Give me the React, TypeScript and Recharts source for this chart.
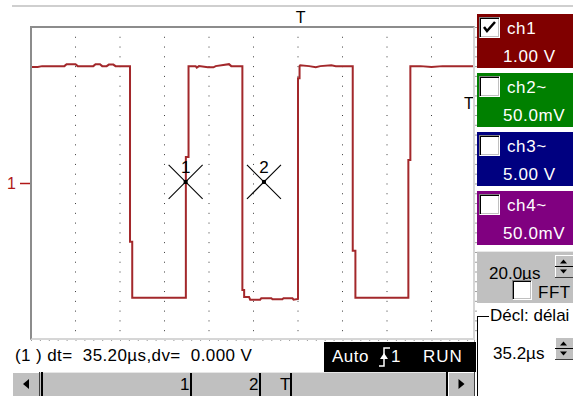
import React from 'react';
import { ComposedChart, Line, XAxis, YAxis, CartesianGrid, ReferenceDot } from 'recharts';

// ch1 trace (time in µs, 20 µs/div; volts, 1 V/div)
const traceTimes = [
  0, 3, 5, 15, 16, 20, 21, 28, 29, 31, 32, 34, 35, 37, 38, 44.5,
  44.5, 45.5, 45.5, 69.6,
  69.6, 70.8, 70.8, 74, 74.5, 75.5, 79.5, 82, 83, 89, 90, 95,
  95, 95.8, 95.8, 98, 98.5, 103, 103.5, 108, 108.5, 113, 113.5, 117.5, 118, 120,
  120, 120.7, 120.7, 121, 125, 128, 130, 135, 137, 144.6,
  144.6, 145.8, 145.8, 169.6,
  169.6, 170.5, 170.5, 175, 180, 185, 199,
];
const traceVolts = [
  2.98, 2.98, 3.0, 3.0, 3.05, 3.05, 3.0, 3.0, 3.05, 3.05, 3.0, 3.0, 3.04, 3.04, 3.0, 3.0,
  -1.49, -1.49, -2.92, -2.92,
  0.68, 0.68, 3.0, 3.0, 2.96, 3.0, 2.97, 2.97, 3.0, 3.05, 3.0, 3.0,
  -2.72, -2.72, -2.9, -2.9, -2.97, -2.97, -2.93, -2.93, -2.96, -2.96, -2.93, -2.93, -2.97, -2.95,
  2.69, 2.69, 3.0, 3.02, 3.0, 2.97, 3.0, 3.02, 3.0, 3.0,
  -1.72, -1.72, -2.92, -2.92,
  0.6, 0.6, 3.0, 3.0, 2.98, 3.0, 3.0,
];

const cursorTimes = [69.5, 104.7];
const cursorVolts = [0.04, 0.04];
const cursorLabels = ['1', '2'];

const triggerTime = 121.2;
const triggerLevel = 2.05;

const timeTicks = [20, 40, 60, 80, 100, 120, 140, 160, 180];
const voltTicks = [-3, -2, -1, 0, 1, 2, 3];

const channelNames = ['ch1', 'ch2~', 'ch3~', 'ch4~'];
const channelScales = ['1.00 V', '50.0mV', '5.00 V', '50.0mV'];
const channelColors = ['#800000', '#008000', '#000080', '#800080'];
const channelOn = [true, false, false, false];

const traceData = traceTimes.map((t, i) => ({ t, v: traceVolts[i] }));

const FONT = '"Liberation Sans", Arial, sans-serif';
const TRACE = '#a3282b';

const Checkbox = ({ checked, left, top, size = 21 }: any) => (
  <div
    style={{
      position: 'absolute', left, top, width: size, height: size, boxSizing: 'border-box',
      background: '#fff', border: '1px solid', borderColor: '#808080 #fff #fff #808080',
      boxShadow: 'inset 1px 1px #000, inset -1px -1px #c0c0c0',
    }}
  >
    {checked && (
      <svg width={size - 2} height={size - 2} style={{ position: 'absolute', left: 0, top: 0 }}>
        <polyline points="4,9 7,13 15,4" fill="none" stroke="#000" strokeWidth={2.5} />
      </svg>
    )}
  </div>
);

const Spinner = ({ left, top, height }: any) => (
  <svg width={18} height={height} style={{ position: 'absolute', left, top }}>
    <rect x={0} y={0} width={18} height={height} fill="#c0c0c0" />
    <line x1={0} y1={0.5} x2={18} y2={0.5} stroke="#fff" />
    <line x1={0.5} y1={0} x2={0.5} y2={height} stroke="#fff" />
    <line x1={0} y1={height / 2} x2={18} y2={height / 2} stroke="#000" />
    <line x1={0} y1={height - 0.5} x2={18} y2={height - 0.5} stroke="#404040" />
    <polygon points={`5,${height / 2 - 3} 12,${height / 2 - 3} 8.5,${height / 2 - 7}`} fill="#000" />
    <polygon points={`5,${height / 2 + 3} 12,${height / 2 + 3} 8.5,${height / 2 + 7}`} fill="#000" />
  </svg>
);

const CursorMark = (props: any) => {
  const { cx, cy, label } = props;
  if (cx == null || cy == null) return null;
  return (
    <g>
      <line x1={cx - 17} y1={cy - 17} x2={cx + 17} y2={cy + 17} stroke="#000" strokeWidth={1.1} />
      <line x1={cx - 17} y1={cy + 17} x2={cx + 17} y2={cy - 17} stroke="#000" strokeWidth={1.1} />
      <rect x={cx - 2} y={cy - 2} width={4} height={4} fill="#000" />
      <text x={cx} y={cy - 9} textAnchor="middle" fontSize={17} fontFamily={FONT} fill="#000">
        {label}
      </text>
    </g>
  );
};

const ScopeScreen = () => (
  <div style={{ position: 'absolute', left: 0, top: 0 }}>
    <ComposedChart
      width={480}
      height={345}
      data={traceData}
      margin={{ top: 27, right: 4, bottom: 5, left: 6 }}
    >
      <XAxis dataKey="t" type="number" domain={[0, 200]} ticks={timeTicks} hide />
      <YAxis yAxisId="grid" type="number" domain={[-4, 4]} ticks={voltTicks} hide />
      <YAxis
        yAxisId="ch"
        type="number"
        domain={[-4, 4]}
        ticks={[0]}
        width={25}
        axisLine={false}
        tickSize={11}
        tickMargin={4}
        tickFormatter={() => '1'}
        tick={{ fill: '#b01818', fontSize: 16, fontFamily: FONT }}
        tickLine={{ stroke: '#b01818', strokeWidth: 1.5 }}
      />
      <CartesianGrid yAxisId="grid" vertical={false} stroke="#3a3a3a" strokeDasharray="1 7.9" />
      <CartesianGrid yAxisId="grid" horizontal={false} stroke="#3a3a3a" strokeDasharray="1 8.78" />
      <Line
        yAxisId="ch"
        dataKey="v"
        type="linear"
        stroke={TRACE}
        strokeWidth={2}
        dot={false}
        isAnimationActive={false}
      />
      {cursorTimes.map((t, i) => (
        <ReferenceDot
          key={`cur-${i}`}
          yAxisId="ch"
          x={t}
          y={cursorVolts[i]}
          ifOverflow="visible"
          shape={(p: any) => <CursorMark {...p} label={cursorLabels[i]} />}
        />
      ))}
      <ReferenceDot
        yAxisId="ch"
        x={triggerTime}
        y={4}
        ifOverflow="visible"
        shape={(p: any) => (
          <text x={p.cx} y={p.cy - 4} textAnchor="middle" fontSize={16} fontFamily={FONT} fill="#000">T</text>
        )}
      />
      <ReferenceDot
        yAxisId="ch"
        x={200}
        y={triggerLevel}
        ifOverflow="visible"
        shape={(p: any) => (
          <text x={p.cx - 7} y={p.cy + 6} textAnchor="middle" fontSize={16} fontFamily={FONT} fill="#000">T</text>
        )}
      />
    </ComposedChart>
    <div
      style={{
        position: 'absolute', left: 30, top: 26, width: 445, height: 314, boxSizing: 'border-box',
        border: '2px solid', borderColor: '#8c8c8c #d6d6d6 #d6d6d6 #8c8c8c', pointerEvents: 'none',
      }}
    />
  </div>
);

const SidePanel = () => (
  <>
    {channelNames.map((name, i) => (
      <div
        key={name}
        style={{
          position: 'absolute', left: 477, top: 14 + i * 59, width: 96, height: 54,
          background: channelColors[i], color: '#fff', fontFamily: FONT, fontSize: 17, letterSpacing: 0.6,
        }}
      >
        <Checkbox checked={channelOn[i]} left={2} top={3} />
        <div style={{ position: 'absolute', left: 30, top: 5 }}>{name}</div>
        <div style={{ position: 'absolute', left: 26, top: 33, whiteSpace: 'pre' }}>{channelScales[i]}</div>
      </div>
    ))}
    <div
      style={{
        position: 'absolute', left: 477, top: 251, width: 96, height: 52, background: '#c0c0c0',
        borderTop: '1px solid #e8e8e8', boxSizing: 'border-box', fontFamily: FONT, fontSize: 17, color: '#000',
      }}
    >
      <div style={{ position: 'absolute', left: 12, top: 12 }}>20.0µs</div>
      <Spinner left={78} top={3} height={23} />
      <Checkbox checked={false} left={35} top={28} size={20} />
      <div style={{ position: 'absolute', left: 61, top: 31, letterSpacing: 0.5 }}>FFT</div>
    </div>
    <div style={{ position: 'absolute', left: 477, top: 316, width: 1, height: 80, background: '#000' }} />
    <div style={{ position: 'absolute', left: 477, top: 316, width: 12, height: 1, background: '#000' }} />
    <div
      style={{
        position: 'absolute', left: 490, top: 306, fontFamily: FONT, fontSize: 17, color: '#000', whiteSpace: 'pre',
      }}
    >
      Décl: délai
    </div>
    <div style={{ position: 'absolute', left: 493, top: 344, fontFamily: FONT, fontSize: 17, color: '#000' }}>35.2µs</div>
    <Spinner left={555} top={337} height={23} />
    <div style={{ position: 'absolute', left: 474, top: 340, width: 1, height: 56, background: '#a0a0a0' }} />
  </>
);

const ScrollButton = ({ left, width, dir }: any) => (
  <svg width={width} height={24} style={{ position: 'absolute', left, top: 372 }}>
    <rect x={0} y={0} width={width} height={24} fill="#c0c0c0" />
    <line x1={0} y1={0.5} x2={width} y2={0.5} stroke="#fff" />
    <line x1={0.5} y1={0} x2={0.5} y2={24} stroke="#fff" />
    <line x1={width - 0.5} y1={0} x2={width - 0.5} y2={24} stroke="#404040" />
    {dir === 'left' ? (
      <polygon points={`${width / 2 - 3},12 ${width / 2 + 3},7 ${width / 2 + 3},17`} fill="#000" />
    ) : (
      <polygon points={`${width / 2 + 3},12 ${width / 2 - 3},7 ${width / 2 - 3},17`} fill="#000" />
    )}
  </svg>
);

const scrollMarks = ['1', '2', 'T'];
const scrollMarkX = [180, 249, 280];

const BottomBar = () => (
  <>
    <div
      style={{
        position: 'absolute', left: 15, top: 346, fontFamily: FONT, fontSize: 17, color: '#000',
        whiteSpace: 'pre', letterSpacing: 0.4,
      }}
    >
      (1 ) dt=  35.20µs,dv=  0.000 V
    </div>
    <div
      style={{
        position: 'absolute', left: 324, top: 342, width: 152, height: 30, background: '#000',
        color: '#fff', fontFamily: FONT, fontSize: 17,
      }}
    >
      <div style={{ position: 'absolute', left: 8, top: 5, letterSpacing: 0.5 }}>Auto</div>
      <svg width={14} height={24} style={{ position: 'absolute', left: 54, top: 3 }}>
        <polyline points="1,21 6,21 6,3 12,3" fill="none" stroke="#fff" strokeWidth={1.5} />
        <polygon points="2,14 10,14 6,8" fill="#fff" />
      </svg>
      <div style={{ position: 'absolute', left: 67, top: 5 }}>1</div>
      <div style={{ position: 'absolute', left: 99, top: 5, letterSpacing: 1 }}>RUN</div>
    </div>
    <div
      style={{
        position: 'absolute', left: 12, top: 372, width: 463, height: 24, background: '#c0c0c0',
        borderTop: '1px solid #e6e6e6', boxSizing: 'border-box',
      }}
    />
    <ScrollButton left={12} width={28} dir="left" />
    <ScrollButton left={448} width={27} dir="right" />
    <div style={{ position: 'absolute', left: 41, top: 372, width: 2, height: 24, background: '#000' }} />
    <div style={{ position: 'absolute', left: 446, top: 372, width: 2, height: 24, background: '#000' }} />
    {scrollMarks.map((m, i) => (
      <React.Fragment key={m}>
        <div
          style={{
            position: 'absolute', left: scrollMarkX[i], top: 375, fontFamily: FONT, fontSize: 17, color: '#000',
          }}
        >
          {m}
        </div>
        <div style={{ position: 'absolute', left: scrollMarkX[i] + 10, top: 373, width: 2, height: 23, background: '#000' }} />
      </React.Fragment>
    ))}
  </>
);

export default function App() {
  return (
    <div
      style={{
        position: 'fixed', left: 0, top: 0, width: 573, height: 396, background: '#fff', overflow: 'hidden',
      }}
    >
      <div style={{ position: 'absolute', left: 12, top: 5, width: 561, height: 2, background: '#cfcfcf' }} />
      <ScopeScreen />
      <SidePanel />
      <BottomBar />
    </div>
  );
}
